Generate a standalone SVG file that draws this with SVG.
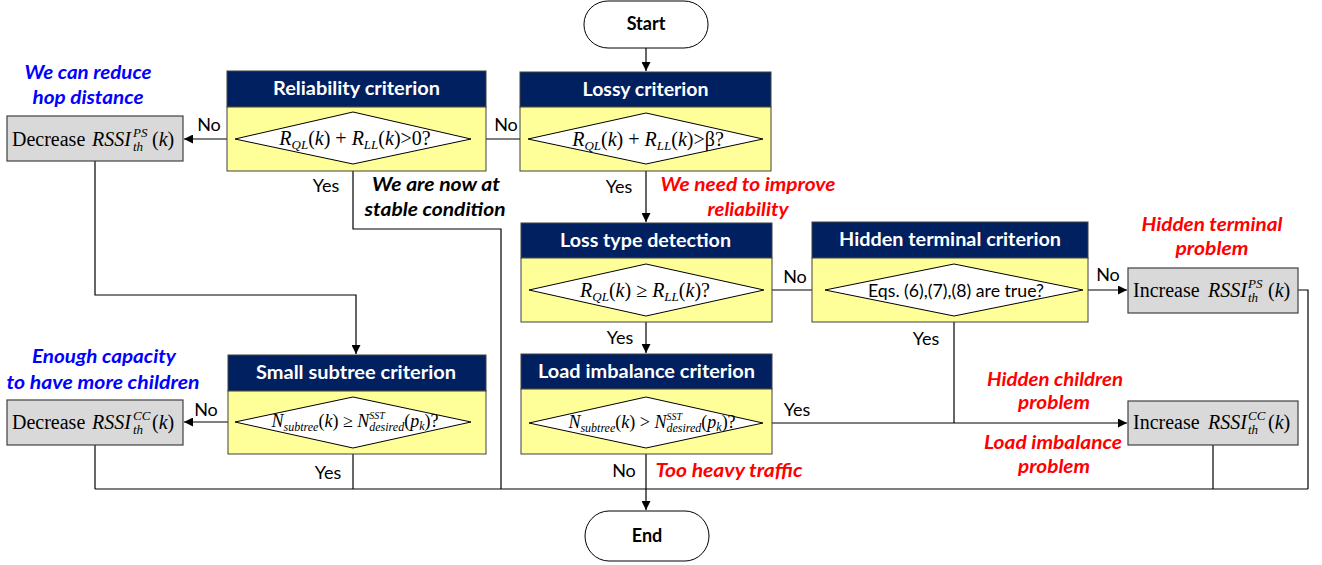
<svg xmlns="http://www.w3.org/2000/svg" width="1322" height="565" viewBox="0 0 1322 565">
<defs>
<marker id="ah" viewBox="0 0 10 10" refX="10" refY="5" markerWidth="10" markerHeight="9" markerUnits="userSpaceOnUse" orient="auto">
<path d="M0,0 L10,5 L0,10 z" fill="#000"/>
</marker>
</defs>
<style>
.hd{fill:#002060;stroke:#404040;stroke-width:1}
.bd{fill:#FFFF99;stroke:#404040;stroke-width:1}
.dia{fill:#fff;stroke:#000;stroke-width:1}
.gb{fill:#D9D9D9;stroke:#404040;stroke-width:1.2}
.term{fill:#fff;stroke:#000;stroke-width:1}
.ht{font-family:Lato,"Liberation Sans",sans-serif;font-weight:bold;font-size:18px;fill:#fff;text-anchor:middle}
.tt{font-family:Lato,"Liberation Sans",sans-serif;font-weight:bold;font-size:18px;fill:#000;text-anchor:middle}
.lb{font-family:Lato,"Liberation Sans",sans-serif;font-size:18px;fill:#000;text-anchor:middle}
.an{font-family:Lato,"Liberation Sans",sans-serif;font-weight:bold;font-style:italic;font-size:18px;text-anchor:middle}
.blue{fill:#0000FF}
.red{fill:#FF0000}
.blk{fill:#000}
.m{font-family:"Liberation Serif",serif;font-size:20px;fill:#000}
.mi{font-family:"Liberation Serif",serif;font-size:20px;font-style:italic;fill:#000}
.ms{font-family:"Liberation Serif",serif;font-size:13px;font-style:italic;fill:#000}
.dm{font-family:"Liberation Serif",serif;font-size:20px;fill:#000;text-anchor:middle}
.dn{font-family:"Liberation Serif",serif;font-size:18px;fill:#000;text-anchor:middle}
.i{font-style:italic}
.sb{font-style:italic;font-size:13px}
.sb2{font-style:italic;font-size:12px}
.sp2{font-style:italic;font-size:10px}
.ds{font-family:Lato,"Liberation Sans",sans-serif;font-size:17px;fill:#000;text-anchor:middle}
.cn{fill:none;stroke:#000;stroke-width:1.2}
.ca{fill:none;stroke:#000;stroke-width:1.2;marker-end:url(#ah)}
</style>

<g id="connectors">
<path class="ca" d="M646 48 V71"/>
<path class="ca" d="M528 139 H472"/>
<path class="ca" d="M235 139 H184"/>
<path class="cn" d="M353 164 V229 H501 V489"/>
<path class="ca" d="M646 164 V222"/>
<path class="ca" d="M764 290 H824"/>
<path class="ca" d="M1083 290 H1127"/>
<path class="cn" d="M1298 290 H1308 V489"/>
<path class="cn" d="M954 316 V423"/>
<path class="ca" d="M763 423 H1127"/>
<path class="cn" d="M1213 445 V489"/>
<path class="ca" d="M646 316 V353"/>
<path class="ca" d="M95 161 V295 H356 V354"/>
<path class="ca" d="M235 422 H184"/>
<path class="cn" d="M95 445 V489"/>
<path class="cn" d="M353 448 V489"/>
<path class="cn" d="M95 489 H1308"/>
<path class="ca" d="M646 448 V510"/>
<text class="lb" x="506" y="131">No</text>
<text class="lb" x="209" y="131">No</text>
<text class="lb" x="326" y="192">Yes</text>
<text class="lb" x="619" y="193">Yes</text>
<text class="lb" x="795" y="283">No</text>
<text class="lb" x="1108" y="281">No</text>
<text class="lb" x="620" y="344">Yes</text>
<text class="lb" x="926" y="345">Yes</text>
<text class="lb" x="797" y="416">Yes</text>
<text class="lb" x="624" y="477">No</text>
<text class="lb" x="328" y="479">Yes</text>
<text class="lb" x="206" y="416">No</text>
</g>

<g id="start">
<rect class="term" x="584" y="1" width="124" height="47" rx="24" ry="23"/>
<text class="tt" x="646" y="30">Start</text>
</g>

<g id="lossy">
<rect class="hd" x="520" y="72" width="251" height="35"/>
<rect class="bd" x="520" y="107" width="251" height="64"/>
<polygon class="dia" points="528,139 646,113 763,139 646,164"/>
<text class="ht" x="645.5" y="96" textLength="126" lengthAdjust="spacingAndGlyphs">Lossy criterion</text>
<text class="dm" x="648" y="146"><tspan class="i">R</tspan><tspan class="sb" dy="4">QL</tspan><tspan dy="-4">(</tspan><tspan class="i">k</tspan>) + <tspan class="i">R</tspan><tspan class="sb" dy="4">LL</tspan><tspan dy="-4">(</tspan><tspan class="i">k</tspan>)&gt;β?</text>
</g>

<g id="reliability">
<rect class="hd" x="227" y="71" width="259" height="36"/>
<rect class="bd" x="227" y="107" width="259" height="64"/>
<polygon class="dia" points="235,139 353,112 471,139 353,164"/>
<text class="ht" x="356.5" y="95" textLength="167" lengthAdjust="spacingAndGlyphs">Reliability criterion</text>
<text class="dm" x="355" y="145"><tspan class="i">R</tspan><tspan class="sb" dy="4">QL</tspan><tspan dy="-4">(</tspan><tspan class="i">k</tspan>) + <tspan class="i">R</tspan><tspan class="sb" dy="4">LL</tspan><tspan dy="-4">(</tspan><tspan class="i">k</tspan>)&gt;0?</text>
</g>

<g id="decrease-ps">
<rect class="gb" x="7" y="116" width="176" height="45"/>
<text class="m" x="12" y="146">Decrease</text>
<text class="mi" x="92" y="146">RSSI</text>
<text class="ms" x="133" y="137">PS</text>
<text class="ms" x="133" y="151">th</text>
<text class="m" x="152" y="146">(<tspan class="i">k</tspan>)</text>
</g>

<g id="loss-type">
<rect class="hd" x="521" y="223" width="251" height="35"/>
<rect class="bd" x="521" y="258" width="251" height="64"/>
<polygon class="dia" points="529,290 646,264 764,290 646,316"/>
<text class="ht" x="645.5" y="247" textLength="171" lengthAdjust="spacingAndGlyphs">Loss type detection</text>
<text class="dm" x="645" y="297"><tspan class="i">R</tspan><tspan class="sb" dy="4">QL</tspan><tspan dy="-4">(</tspan><tspan class="i">k</tspan>) ≥ <tspan class="i">R</tspan><tspan class="sb" dy="4">LL</tspan><tspan dy="-4">(</tspan><tspan class="i">k</tspan>)?</text>
</g>

<g id="hidden-terminal">
<rect class="hd" x="812" y="222" width="276" height="36"/>
<rect class="bd" x="812" y="258" width="276" height="64"/>
<polygon class="dia" points="825,290 954,264 1083,290 954,316"/>
<text class="ht" x="950" y="246" textLength="222" lengthAdjust="spacingAndGlyphs">Hidden terminal criterion</text>
<text class="ds" x="956" y="297" textLength="176" lengthAdjust="spacingAndGlyphs">Eqs. (6),(7),(8) are true?</text>
</g>

<g id="increase-ps">
<rect class="gb" x="1128" y="268" width="170" height="45"/>
<text class="m" x="1133" y="297">Increase</text>
<text class="mi" x="1208" y="297">RSSI</text>
<text class="ms" x="1248" y="288">PS</text>
<text class="ms" x="1248" y="302">th</text>
<text class="m" x="1268" y="297">(<tspan class="i">k</tspan>)</text>
</g>

<g id="increase-cc">
<rect class="gb" x="1128" y="401" width="170" height="44"/>
<text class="m" x="1133" y="429">Increase</text>
<text class="mi" x="1208" y="429">RSSI</text>
<text class="ms" x="1248" y="420">CC</text>
<text class="ms" x="1248" y="434">th</text>
<text class="m" x="1268" y="429">(<tspan class="i">k</tspan>)</text>
</g>

<g id="load-imbalance">
<rect class="hd" x="521" y="354" width="251" height="35"/>
<rect class="bd" x="521" y="389" width="251" height="65"/>
<polygon class="dia" points="529,423 646,397 763,423 646,448"/>
<text class="ht" x="646.5" y="378" textLength="217" lengthAdjust="spacingAndGlyphs">Load imbalance criterion</text>
<text class="dn" x="652" y="428"><tspan class="i">N</tspan><tspan class="sb2" dy="4">subtree</tspan><tspan dy="-4">(</tspan><tspan class="i">k</tspan>) &gt; <tspan class="i">N</tspan><tspan class="sp2" dy="-8">SST</tspan><tspan class="sb2" dx="-15.6" dy="12">desired</tspan><tspan dy="-4">(</tspan><tspan class="i">p</tspan><tspan class="sb2" dy="3">k</tspan><tspan dy="-3">)?</tspan></text>
</g>

<g id="small-subtree">
<rect class="hd" x="228" y="355" width="258" height="36"/>
<rect class="bd" x="228" y="391" width="258" height="63"/>
<polygon class="dia" points="235,422 353,397 471,422 353,448"/>
<text class="ht" x="356" y="379" textLength="200" lengthAdjust="spacingAndGlyphs">Small subtree criterion</text>
<text class="dn" x="355" y="427"><tspan class="i">N</tspan><tspan class="sb2" dy="4">subtree</tspan><tspan dy="-4">(</tspan><tspan class="i">k</tspan>) ≥ <tspan class="i">N</tspan><tspan class="sp2" dy="-8">SST</tspan><tspan class="sb2" dx="-15.6" dy="12">desired</tspan><tspan dy="-4">(</tspan><tspan class="i">p</tspan><tspan class="sb2" dy="3">k</tspan><tspan dy="-3">)?</tspan></text>
</g>

<g id="decrease-cc">
<rect class="gb" x="7" y="400" width="176" height="45"/>
<text class="m" x="12" y="429">Decrease</text>
<text class="mi" x="92" y="429">RSSI</text>
<text class="ms" x="133" y="420">CC</text>
<text class="ms" x="133" y="434">th</text>
<text class="m" x="152" y="429">(<tspan class="i">k</tspan>)</text>
</g>

<g id="end">
<rect class="term" x="585" y="511" width="124" height="50" rx="24" ry="25"/>
<text class="tt" x="647" y="542">End</text>
</g>

<g id="annotations">
<text class="an blue" x="88" y="79" textLength="127" lengthAdjust="spacingAndGlyphs">We can reduce</text>
<text class="an blue" x="88" y="104" textLength="111" lengthAdjust="spacingAndGlyphs">hop distance</text>
<text class="an blk" x="436" y="191" textLength="128" lengthAdjust="spacingAndGlyphs">We are now at</text>
<text class="an blk" x="435" y="216" textLength="141" lengthAdjust="spacingAndGlyphs">stable condition</text>
<text class="an red" x="748" y="191" textLength="175" lengthAdjust="spacingAndGlyphs">We need to improve</text>
<text class="an red" x="748" y="216" textLength="81" lengthAdjust="spacingAndGlyphs">reliability</text>
<text class="an red" x="1212" y="231" textLength="141" lengthAdjust="spacingAndGlyphs">Hidden terminal</text>
<text class="an red" x="1212" y="255" textLength="73" lengthAdjust="spacingAndGlyphs">problem</text>
<text class="an red" x="1055" y="386" textLength="136" lengthAdjust="spacingAndGlyphs">Hidden children</text>
<text class="an red" x="1054" y="409" textLength="72" lengthAdjust="spacingAndGlyphs">problem</text>
<text class="an red" x="1053" y="449" textLength="138" lengthAdjust="spacingAndGlyphs">Load imbalance</text>
<text class="an red" x="1054" y="473" textLength="72" lengthAdjust="spacingAndGlyphs">problem</text>
<text class="an red" x="729" y="477" textLength="147" lengthAdjust="spacingAndGlyphs">Too heavy traffic</text>
<text class="an blue" x="104" y="363" textLength="144" lengthAdjust="spacingAndGlyphs">Enough capacity</text>
<text class="an blue" x="103" y="389" textLength="193" lengthAdjust="spacingAndGlyphs">to have more children</text>
</g>
</svg>
